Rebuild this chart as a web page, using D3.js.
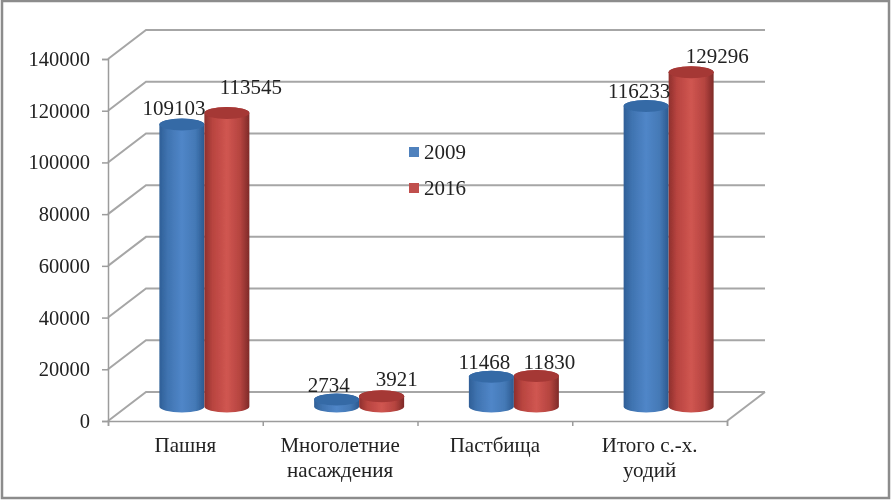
<!DOCTYPE html>
<html lang="ru">
  <head>
    <meta charset="utf-8">
    <title>Структура угодий</title>
    <script src="https://cdnjs.cloudflare.com/ajax/libs/d3/7.8.5/d3.min.js"></script>
    <style>
      body { margin: 0; background: #fff; }
      svg { display: block; }
      text { font-family: "Liberation Serif", serif; fill: #222; }
      .axis path, .axis line { stroke: #9c9c9c; stroke-width: 1.5; }
      .axis text { font-family: "Liberation Serif", serif; fill: #222; font-size: 20.5px; }
    </style>
  </head>
  <body>
    <script>
      // Data.
      const categories = [["Пашня"], ["Многолетние", "насаждения"], ["Пастбища"], ["Итого с.-х.", "уодий"]];
      const seriesNames = ["2009", "2016"];
      const values2009 = [109103, 2734, 11468, 116233];
      const values2016 = [113545, 3921, 11830, 129296];
      const yTicks = [0, 20000, 40000, 60000, 80000, 100000, 120000, 140000];

      const w = 891, h = 500;
      const plotLeft = 108, plotRight = 727, plotBottom = 421, plotTop = 59;
      const depthX = 38, depthY = -29;  // offset of the back wall
      const barW = 45, ry = 6;

      // Data labels were moved by hand in the original chart.
      const labelNudge = [
        [[-8, -9], [24, -19]],
        [[-8, -7], [15, -10]],
        [[-7, -8], [13, -7]],
        [[-7, -8], [26, -9]]
      ];

      const y = d3.scaleLinear().domain([0, 140000]).range([plotBottom, plotTop]);
      const x = d3.scaleBand().domain(d3.range(categories.length)).range([plotLeft, plotRight]);
      const edges = d3.scaleLinear().domain([0, categories.length]).range([plotLeft, plotRight]);
      const xInner = d3.scaleBand().domain(seriesNames).range([-barW, barW]);

      const svg = d3.select("body").append("svg").attr("width", w).attr("height", h);

      const defs = svg.append("defs");
      defs.append("filter").attr("id", "soft")
          .append("feGaussianBlur").attr("stdDeviation", 0.5);

      const grad = (id, stops) => {
        defs.append("linearGradient").attr("id", id)
            .selectAll("stop").data(stops).enter().append("stop")
            .attr("offset", d => d[0]).attr("stop-color", d => d[1]);
      };
      grad("blue", [[0, "#2f5f97"], [0.18, "#3f73b0"], [0.5, "#5086c8"], [0.8, "#4479b6"], [1, "#2c5a90"]]);
      grad("red", [[0, "#8e2f2d"], [0.18, "#b8443f"], [0.5, "#d05651"], [0.8, "#b5443f"], [1, "#7e2a28"]]);
      const topColor = { "2009": "#356aa6", "2016": "#a53735" };
      const fillId = { "2009": "url(#blue)", "2016": "url(#red)" };

      const g = svg.append("g").attr("filter", "url(#soft)");

      // Picture frame.
      g.append("rect").attr("x", 2).attr("y", 1).attr("width", w - 4).attr("height", h - 3)
       .attr("fill", "none").attr("stroke", "#8c8c8c").attr("stroke-width", 2.5);

      // Back wall lines and their diagonals.
      g.append("g").selectAll("path").data(yTicks).enter().append("path")
       .attr("fill", "none").attr("stroke", "#a6a6a6").attr("stroke-width", 2)
       .attr("d", d => d3.line()([
         [plotLeft, y(d)],
         [plotLeft + depthX, y(d) + depthY],
         [plotRight + depthX, y(d) + depthY]
       ]));

      // Floor edge.
      g.append("path").attr("fill", "none").attr("stroke", "#a6a6a6").attr("stroke-width", 2)
       .attr("d", d3.line()([
         [plotRight, plotBottom],
         [plotRight + depthX, plotBottom + depthY]
       ]));

      // Axes.
      g.append("g").attr("class", "axis")
       .attr("transform", "translate(" + plotLeft + ",0)")
       .call(d3.axisLeft(y).tickValues(yTicks).tickFormat(d => d).tickSize(6).tickPadding(12));

      g.append("g").attr("class", "axis")
       .attr("transform", "translate(0," + plotBottom + ")")
       .call(d3.axisBottom(edges).tickValues(d3.range(categories.length + 1)).tickFormat("").tickSize(5));

      // Category labels.
      const catLabel = g.append("g").selectAll("text").data(categories).enter().append("text")
        .attr("text-anchor", "middle").attr("font-size", 21)
        .attr("transform", (d, i) => "translate(" + (x(i) + x.bandwidth() / 2) + ",452)");
      catLabel.selectAll("tspan").data(d => d).enter().append("tspan")
        .attr("x", 0).attr("y", (d, i) => i * 25).text(d => d);

      // Cylinders.
      const baseY = plotBottom + depthY / 2;
      const centerX = i => x(i) + x.bandwidth() / 2 + depthX / 2;
      const rows = [];
      categories.forEach((c, i) => {
        [values2009, values2016].forEach((vals, s) => {
          rows.push({ i: i, s: s, name: seriesNames[s], value: vals[i] });
        });
      });
      const barTop = d => baseY - (y(0) - y(d.value));
      const barLeft = d => centerX(d.i) + xInner(d.name);

      const bars = g.append("g").selectAll("g").data(rows).enter().append("g");
      bars.append("path")
          .attr("fill", d => fillId[d.name])
          .attr("d", d => {
            const x0 = barLeft(d), x1 = x0 + barW, rx = barW / 2;
            return "M" + x0 + "," + barTop(d) +
                   "V" + baseY +
                   "A" + rx + "," + ry + " 0 0 0 " + x1 + "," + baseY +
                   "V" + barTop(d) +
                   "A" + rx + "," + ry + " 0 0 0 " + x0 + "," + barTop(d) + "Z";
          });
      bars.append("ellipse")
          .attr("cx", d => barLeft(d) + barW / 2)
          .attr("cy", barTop)
          .attr("rx", barW / 2)
          .attr("ry", ry)
          .attr("fill", d => topColor[d.name]);

      // Data labels.
      g.append("g").selectAll("text").data(rows).enter().append("text")
       .attr("text-anchor", "middle").attr("font-size", 21)
       .attr("x", d => barLeft(d) + barW / 2 + labelNudge[d.i][d.s][0])
       .attr("y", d => barTop(d) + labelNudge[d.i][d.s][1])
       .text(d => d.value);

      // Legend.
      const legend = g.append("g").selectAll("g").data(seriesNames).enter().append("g")
        .attr("transform", (d, i) => "translate(409," + (147 + i * 36) + ")");
      legend.append("rect").attr("width", 10).attr("height", 10)
            .attr("fill", (d, i) => i === 0 ? "#4f81bd" : "#c0504d");
      legend.append("text").attr("x", 15).attr("y", 12).attr("font-size", 21).text(d => d);
    </script>
  </body>
</html>
